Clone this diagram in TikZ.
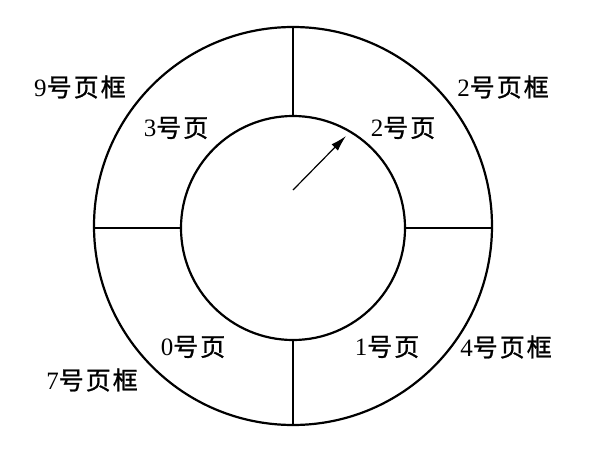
\documentclass[tikz,border=0pt]{standalone}
\usepackage{fontspec}
\setmainfont{Liberation Serif}
\newfontfamily\cjk[LetterSpace=8, FakeBold=1]{Noto Sans CJK SC}
\usetikzlibrary{arrows.meta}

\begin{document}
\begin{tikzpicture}[x=1pt, y=-1pt,
        ring/.style={draw, circle, line width=2.2pt, inner sep=0pt},
        divider/.style={line width=1.2pt},
        lbl/.style={inner sep=0pt, font=\fontsize{25}{29}\selectfont}]
        \useasboundingbox (0,0) rectangle (590,474);

        \node [ring, minimum size=398pt] (frames) at (293,226) {};  % page frames
        \node [ring, minimum size=224pt] (pages)  at (293,228) {};  % pages

        \draw [divider] (frames.north) -- (pages.north);
        \draw [divider] (frames.south) -- (pages.south);
        \draw [divider] (frames.west |- pages.west) -- (pages.west);
        \draw [divider] (frames.east |- pages.east) -- (pages.east);

        \coordinate (hand)     at (293,190);
        \coordinate (hand tip) at (346,136);
        \draw [divider, -{Latex[length=16pt, width=9pt]}] (hand) -- (hand tip);

        \node [lbl] (frame9) at (80,87)   {9{\cjk 号页框}};
        \node [lbl] (frame2) at (503,87)  {2{\cjk 号页框}};
        \node [lbl] (frame4) at (506,347) {4{\cjk 号页框}};
        \node [lbl] (frame7) at (92,380)  {7{\cjk 号页框}};
        \node [lbl] (page3)  at (176,128) {3{\cjk 号页}};
        \node [lbl] (page2)  at (403,128) {2{\cjk 号页}};
        \node [lbl] (page1)  at (387,347) {1{\cjk 号页}};
        \node [lbl] (page0)  at (193,347) {0{\cjk 号页}};
      \end{tikzpicture}
\end{document}
